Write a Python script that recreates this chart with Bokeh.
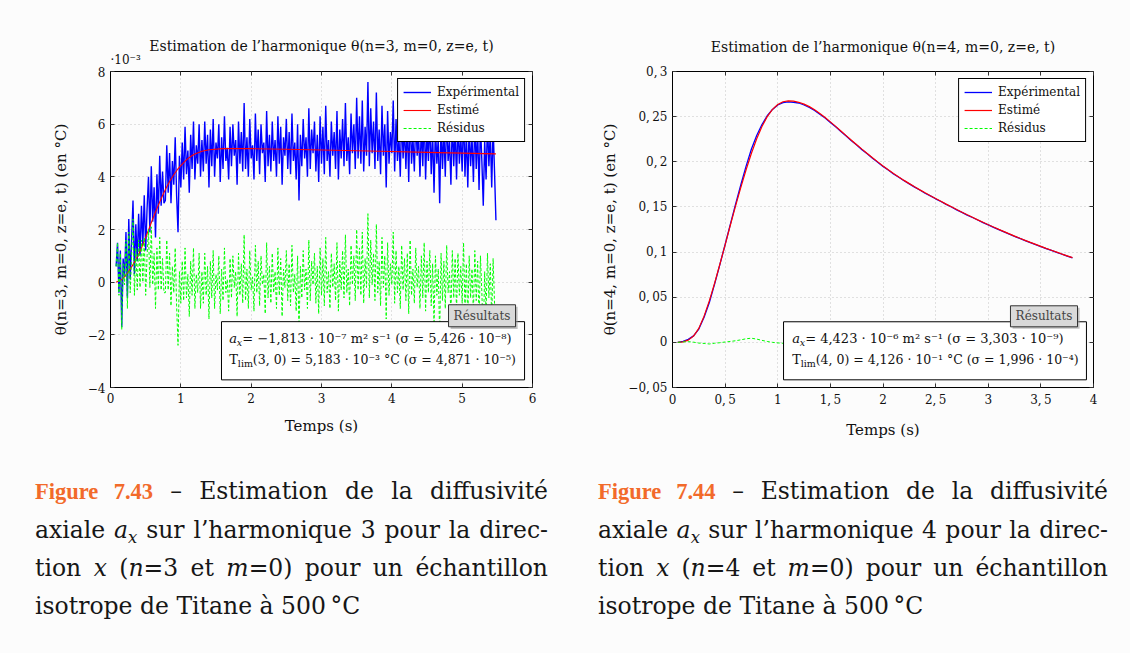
import numpy as np
from bokeh.plotting import figure
from bokeh.models import (Range1d, FixedTicker, BoxAnnotation, Label, Legend,
                          LegendItem, Div, LinearAxis, Title)
from bokeh.layouts import row, column
from bokeh.embed import file_html
from bokeh.resources import INLINE

BG = "#fcfcfc"
FONT = "DejaVu Serif"

# ---------------- data : harmonique n=3 (values in 1e-3 °C) ----------------
experimental_3 = [
    0.6, 1.5, -0.4, 1.2, -1.7, 0.9, 0.2, 1.9, -0.6, 2.4, 0.1, 1.6, 3.1, 0.3, 2.2, 0.8, 2.6,
    1.0, 2.9, 1.4, 3.3, 1.2, 2.8, 4.0, 1.9, 4.4, 2.3, 3.6, 1.7, 4.1, 2.6, 4.8, 2.9, 4.2, 3.0, 3.1, 5.2,
    3.4, 4.9, 3.0, 4.6, 3.7, 5.5, 3.3, 1.9, 4.8, 3.6, 5.3, 3.9, 5.9, 4.1, 5.0, 3.4, 5.6, 4.3, 6.1, 3.9,
    5.2, 4.5, 6.0, 4.0, 5.4,
    4.2, 6.1, 4.5, 5.6, 3.6, 5.8, 4.4, 6.2, 4.0, 5.3,
    4.7, 6.0, 3.8, 5.5, 4.3, 6.3, 4.6, 5.1, 3.9, 5.9,
    4.4, 6.0, 4.8, 5.4, 3.7, 6.1, 4.5, 5.7, 4.2, 6.8,
    4.3, 5.5, 4.0, 6.2, 4.7, 5.2, 3.9, 6.4, 4.6, 5.8,
    4.1, 6.0, 4.9, 5.3, 3.8, 6.5, 4.4, 5.6, 4.2, 6.1,
    4.6, 5.4, 4.0, 6.3, 4.5, 5.9, 3.7, 5.5, 4.8, 6.2,
    4.3, 5.7, 4.1, 6.4, 4.6, 5.3, 3.9, 6.0, 3.1, 5.6,
    4.4, 6.2, 4.7, 5.5, 4.0, 6.6, 4.3, 5.8, 4.9, 6.1,
    4.2, 5.6, 3.8, 6.3, 4.5, 5.9, 4.1, 6.7, 4.6, 5.4,
    4.0, 6.1, 4.8, 5.7, 4.3, 6.5, 3.9, 5.8, 4.7, 6.2,
    4.4, 6.8, 4.6, 5.5, 4.1, 6.4, 4.9, 6.0, 4.3, 7.0,
    4.7, 6.3, 4.5, 6.9, 4.2, 5.9, 4.8, 7.6, 4.4, 6.6,
    4.9, 6.1, 4.3, 7.2, 4.6, 5.8, 4.1, 6.7, 4.8, 6.0,
    3.6, 6.5, 4.5, 5.7, 4.9, 6.9, 4.2, 6.2, 4.6, 5.6,
    4.0, 6.4, 4.7, 5.9, 4.3, 6.1, 3.8, 6.6, 4.5, 5.5,
    4.2, 6.3, 4.8, 5.6, 4.0, 6.0, 4.4, 6.5, 3.9, 5.8,
    4.6, 6.2, 4.1, 5.7, 3.4, 6.0, 4.5, 5.5, 3.0, 6.1,
    4.3, 5.8, 4.0, 6.4, 4.6, 5.4, 3.7, 6.2, 4.4, 5.9,
    3.9, 6.1, 4.5, 5.6, 4.2, 6.5, 4.0, 5.7, 3.6, 6.0,
    4.4, 5.5, 3.8, 6.2, 4.3, 5.8, 3.5, 6.0, 4.6, 2.9,
    5.4, 3.9, 6.1, 4.4, 5.7, 3.6, 5.9, 4.2,
    2.35,
]
residus_3 = [
    0.6, 1.5, -0.5, 1.1, -1.8, 0.7, -0.1, 1.6, -1.0, 1.9, -0.4, 1.0, 2.4, -0.5, 1.3, -0.3, 1.6,
    -0.2, 1.6, 0.0, 1.7, -0.5, 1.0, 2.0, -0.2, 2.1, -0.1, 1.1, -1.0, 1.3, -0.3, 1.7, -0.3, 0.9, -0.4, -0.4, 1.6,
    -0.3, 1.1, -0.9, 0.6, -0.4, 1.3, -0.9, -2.4, 0.4, -0.8, 0.8, -0.7, 1.3, -0.6, 0.3, -1.3, 0.8, -0.5, 1.3, -1.0,
    0.3, -0.4, 1.1, -1.0, 0.4,
    -0.8, 1.1, -0.5, 0.6, -1.4, 0.8, -0.6, 1.2, -1.0, 0.3,
    -0.3, 1.0, -1.2, 0.5, -0.7, 1.3, -0.4, 0.1, -1.1, 0.9,
    -0.6, 1.0, -0.2, 0.4, -1.3, 1.1, -0.5, 0.7, -0.8, 1.8,
    -0.7, 0.5, -1.0, 1.2, -0.3, 0.2, -1.1, 1.4, -0.4, 0.8,
    -0.9, 1.0, -0.1, 0.3, -1.2, 1.5, -0.6, 0.6, -0.8, 1.1,
    -0.4, 0.4, -1.0, 1.3, -0.5, 0.9, -1.3, 0.5, -0.2, 1.2,
    -0.7, 0.7, -0.9, 1.4, -0.4, 0.3, -1.1, 1.0, -1.9, 0.6,
    -0.6, 1.2, -0.3, 0.5, -1.0, 1.6, -0.7, 0.8, -0.1, 1.1,
    -0.8, 0.6, -1.2, 1.3, -0.5, 0.9, -0.9, 1.7, -0.4, 0.4,
    -1.0, 1.1, -0.2, 0.7, -0.7, 1.5, -1.1, 0.8, -0.3, 1.2,
    -0.6, 1.8, -0.4, 0.5, -0.9, 1.4, -0.1, 1.0, -0.7, 2.0,
    -0.3, 1.3, -0.5, 1.9, -0.8, 0.9, -0.2, 2.6, -0.6, 1.6,
    -0.1, 1.1, -0.7, 2.2, -0.4, 0.8, -0.9, 1.7, -0.2, 1.0,
    -1.4, 1.5, -0.5, 0.7, -0.1, 1.9, -0.8, 1.2, -0.4, 0.6,
    -1.0, 1.4, -0.3, 0.9, -0.7, 1.1, -1.2, 1.6, -0.5, 0.5,
    -0.8, 1.3, -0.2, 0.6, -1.0, 1.0, -0.6, 1.5, -1.1, 0.8,
    -0.4, 1.2, -0.9, 0.7, -1.6, 1.0, -0.5, 0.5, -2.0, 1.1,
    -0.7, 0.8, -1.0, 1.4, -0.4, 0.4, -1.3, 1.2, -0.6, 0.9,
    -1.1, 1.1, -0.5, 0.6, -0.8, 1.5, -1.0, 0.7, -1.4, 1.0,
    -0.6, 0.5, -1.2, 1.2, -0.7, 0.8, -1.5, 1.0, -0.4, -2.1,
    0.4, -1.1, 1.1, -0.6, 0.7, -1.4, 0.9, -0.8,
    -2.5,
]
temps_3 = np.round(0.08 + 0.02 * np.arange(len(experimental_3)), 2)

temps_est_3 = [0.08, 0.15, 0.2, 0.25, 0.3, 0.35, 0.4, 0.45, 0.5, 0.55, 0.6, 0.65, 0.7, 0.75,
               0.8, 0.85, 0.9, 0.95, 1.0, 1.05, 1.1, 1.15, 1.2, 1.3, 1.4, 1.6, 2.0, 2.5, 3.0,
               3.5, 4.0, 4.5, 5.0, 5.48]
estime_3 = [0.0, 0.08, 0.2, 0.38, 0.58, 0.8, 1.05, 1.36, 1.7, 2.05, 2.4, 2.73, 3.05, 3.35,
            3.62, 3.87, 4.08, 4.27, 4.43, 4.57, 4.69, 4.79, 4.87, 4.97, 5.03, 5.07, 5.07,
            5.05, 5.02, 4.99, 4.96, 4.93, 4.9, 4.87]

# ---------------- data : harmonique n=4 (values in °C) ----------------
estime_4 = [
    0.0000, 0.0006, 0.0025, 0.0070, 0.0155, 0.0290, 0.0460, 0.0655, 0.0865, 0.1080,
    0.1300, 0.1515, 0.1720, 0.1915, 0.2095, 0.2255, 0.2390, 0.2500, 0.2580, 0.2635,
    0.2665,
    0.2675, 0.2671, 0.2659, 0.2639, 0.2611, 0.2576, 0.2535, 0.2490, 0.2442, 0.2392,
    0.2341, 0.2290, 0.2239, 0.2189, 0.2140, 0.2092, 0.2045, 0.1999, 0.1954, 0.1911,
    0.1870, 0.1831, 0.1794, 0.1758, 0.1723, 0.1689, 0.1656, 0.1624, 0.1593,
    0.1562, 0.1531, 0.1501, 0.1471, 0.1442, 0.1413, 0.1385, 0.1357, 0.1330, 0.1303,
    0.1277, 0.1251, 0.1226, 0.1201, 0.1177, 0.1153, 0.1130, 0.1107, 0.1085, 0.1063,
    0.1041, 0.1020, 0.0999, 0.0978, 0.0958, 0.0938,
]
experimental_4 = [
    0.0000, 0.0011, 0.0033, 0.0072, 0.0147, 0.0278, 0.0442, 0.0645, 0.0861, 0.1084,
    0.1310, 0.1533, 0.1748, 0.1955, 0.2141, 0.2291, 0.2412, 0.2510, 0.2580, 0.2629,
    0.2655,
    0.2663, 0.2659, 0.2651, 0.2629, 0.2601, 0.2569, 0.2526, 0.2484, 0.2436, 0.2387,
    0.2335, 0.2286, 0.2233, 0.2185, 0.2134, 0.2089, 0.2040, 0.1996, 0.1949, 0.1908,
    0.1865, 0.1828, 0.1790, 0.1755, 0.1719, 0.1687, 0.1652, 0.1622, 0.1590,
    0.1560, 0.1528, 0.1499, 0.1468, 0.1440, 0.1410, 0.1383, 0.1355, 0.1327, 0.1301,
    0.1274, 0.1249, 0.1223, 0.1199, 0.1174, 0.1151, 0.1127, 0.1105, 0.1083, 0.1061,
    0.1039, 0.1018, 0.0997, 0.0976, 0.0956, 0.0936,
]
residus_4 = [
    0.0000, 0.0005, 0.0008, 0.0002, -0.0008, -0.0012, -0.0018, -0.0010, -0.0004, 0.0004,
    0.0010, 0.0018, 0.0028, 0.0040, 0.0046, 0.0036, 0.0022, 0.0010, 0.0000, -0.0006,
    -0.0010, -0.0012, -0.0008, -0.0010, -0.0013, -0.0010, -0.0007, -0.0009, -0.0006, -0.0006,
    -0.0008, -0.0005, -0.0007, -0.0003, -0.0006, -0.0004, -0.0008, -0.0003, -0.0006, -0.0003,
    -0.0005, -0.0003, -0.0006, -0.0002, -0.0006, -0.0002, -0.0004, -0.0003, -0.0004, -0.0002,
    -0.0004, -0.0002, -0.0003, -0.0002, -0.0003, -0.0002, -0.0003, -0.0001, -0.0003, -0.0002,
    -0.0003, -0.0001, -0.0003, -0.0002, -0.0002, -0.0001, -0.0003, -0.0001, -0.0002, -0.0001,
    -0.0003, -0.0001, -0.0003, -0.0001, -0.0002, -0.0004,
]
temps_4 = np.round(0.05 + 0.05 * np.arange(len(estime_4)), 2)

x_ticks_3 = [0, 1, 2, 3, 4, 5, 6]
x_labels_3 = ["0", "1", "2", "3", "4", "5", "6"]
y_ticks_3 = [-4, -2, 0, 2, 4, 6, 8]
y_labels_3 = ["−4", "−2", "0", "2", "4", "6", "8"]
x_ticks_4 = [0, 0.5, 1, 1.5, 2, 2.5, 3, 3.5, 4]
x_labels_4 = ["0", "0,\u20095", "1", "1,\u20095", "2", "2,\u20095", "3", "3,\u20095", "4"]
y_ticks_4 = [-0.05, 0, 0.05, 0.1, 0.15, 0.2, 0.25, 0.3]
y_labels_4 = ["−0,\u200905", "0", "0,\u200905", "0,\u20091", "0,\u200915", "0,\u20092", "0,\u200925", "0,\u20093"]

series_names = ["Expérimental", "Estimé", "Résidus"]


def make_plot(n, xr, yr, xt, xl, yt, yl, t_exp, exp, t_est, est, t_res, res, widths,
              box, tag_box, tag_center, left_border, right_border, frame_w,
              title_standoff, ylabel_standoff):
    p = figure(frame_width=frame_w, frame_height=316, x_range=Range1d(*xr), y_range=Range1d(*yr),
               output_backend="svg", toolbar_location=None,
               min_border_left=left_border, min_border_right=right_border,
               min_border_top=71, min_border_bottom=63,
               background_fill_color=BG, border_fill_color=BG)
    p.outline_line_color = "black"
    p.outline_line_width = 1
    p.outline_line_alpha = 1
    p.title.text = f"Estimation de l’harmonique θ(n={n}, m=0, z=e, t)"
    p.title.align = "center"
    p.title.text_font = FONT
    p.title.text_font_size = "14px"
    p.title.text_font_style = "normal"
    p.title.text_color = "#111111"
    try:
        p.title.standoff = title_standoff
    except Exception:
        p.title.standoff = 0

    for ax in p.xaxis:
        ax.ticker = FixedTicker(ticks=xt)
        ax.major_label_overrides = {k: v for k, v in zip(xt, xl)}
        ax.axis_label = "Temps (s)"
        ax.axis_label_standoff = 11
    for ax in p.yaxis:
        ax.ticker = FixedTicker(ticks=yt)
        ax.major_label_overrides = {k: v for k, v in zip(yt, yl)}
        ax.axis_label = f"θ(n={n}, m=0, z=e, t) (en °C)"
        ax.axis_label_standoff = ylabel_standoff
    for ax in list(p.xaxis) + list(p.yaxis):
        ax.major_tick_in = 4
        ax.major_tick_out = 0
        ax.minor_tick_line_color = None
        ax.axis_line_color = "black"
        ax.major_tick_line_color = "#333333"
        ax.major_label_text_font = FONT
        ax.major_label_text_font_size = "12px"
        ax.major_label_text_color = "#111111"
        ax.axis_label_text_font = FONT
        ax.axis_label_text_font_size = "15px"
        ax.axis_label_text_font_style = "normal"
        ax.axis_label_text_color = "#111111"
        ax.major_label_standoff = 5

    # mirrored ticks on top and right (no labels)
    for loc, ticks in (("above", xt), ("right", yt)):
        mirror = LinearAxis(ticker=FixedTicker(ticks=ticks), major_label_text_font_size="1px",
                            major_label_text_color=None, axis_line_color=None,
                            major_tick_in=4, major_tick_out=0, minor_tick_line_color=None,
                            major_label_standoff=0, major_tick_line_color="#333333")
        p.add_layout(mirror, loc)

    p.grid.grid_line_color = "#c4c4c4"
    p.grid.grid_line_dash = "1 3"
    p.grid.grid_line_width = 1

    r1 = p.line(t_exp, exp, color="#0000ff", line_width=widths[0])
    r2 = p.line(t_est, est, color="#ff0000", line_width=widths[1])
    r3 = p.line(t_res, res, color="#00ff00", line_width=widths[2], line_dash="3 2")

    legend = Legend(items=[LegendItem(label=series_names[0], renderers=[r1]),
                           LegendItem(label=series_names[1], renderers=[r2]),
                           LegendItem(label=series_names[2], renderers=[r3])],
                    location="top_right", margin=7, padding=5, spacing=2,
                    label_height=16, glyph_height=16, glyph_width=28, label_standoff=6,
                    label_text_font=FONT, label_text_font_size="12px",
                    label_text_color="#111111",
                    border_line_color="black", border_line_width=1, border_line_alpha=1,
                    background_fill_color="white", background_fill_alpha=1)
    p.add_layout(legend)

    # results box
    bl, br, bt, bb = box
    p.add_layout(BoxAnnotation(left=bl, right=br, top=bt, bottom=bb, fill_color="white",
                               fill_alpha=1, line_color="black", line_width=1, line_alpha=1))
    tl, tr, tt, tb, sx, sy = tag_box
    p.add_layout(BoxAnnotation(left=tl + sx, right=tr + sx, top=tt - sy, bottom=tb - sy,
                               fill_color="#9a9a9a", fill_alpha=0.6, line_alpha=0))
    p.add_layout(BoxAnnotation(left=tl, right=tr, top=tt, bottom=tb, fill_color="#d9d9d9",
                               fill_alpha=1, line_color="#333333", line_width=1, line_alpha=1))
    p.add_layout(Label(x=tag_center[0], y=tag_center[1], text="Résultats", text_font=FONT,
                       text_font_size="12px", text_color="#444444", text_align="center",
                       text_baseline="middle"))
    return p


def txt(p, x, y, text, dx=0, dy=0, size="13px", style="normal"):
    p.add_layout(Label(x=x, y=y, x_offset=dx, y_offset=dy, text=text, text_font=FONT,
                       text_font_size=size, text_font_style=style,
                       text_color="#111111", text_baseline="middle"))


def results(p, x, y1, y2, line1, line2):
    # line 1 : a_x ...
    txt(p, x, y1, "a", style="italic")
    txt(p, x, y1, "x", dx=7.5, dy=-4, size="9.5px", style="italic")
    txt(p, x, y1, line1, dx=13)
    # line 2 : T_lim ...
    txt(p, x, y2, "T")
    txt(p, x, y2, "lim", dx=8.5, dy=-4, size="9.5px")
    txt(p, x, y2, line2, dx=23.5, size="12.5px")


# ---------- left figure ----------
p1 = make_plot(3, (0, 6), (-4, 8), x_ticks_3, x_labels_3, y_ticks_3, y_labels_3,
               temps_3, experimental_3, temps_est_3, estime_3, temps_3, residus_3, (1.4, 1.1, 1.0),
               (1.578, 5.887, -1.50, -3.71),
               (4.806, 5.759, -0.858, -1.694, 0.03, 0.08), (5.282, -1.276), 110, 38, 422, -14, 15)
p1.add_layout(Title(text="·10⁻³", align="left", text_font=FONT, text_font_size="12px",
                    text_font_style="normal", text_color="#111111", standoff=9), "above")
results(p1, 1.69, -2.15, -2.95,
        " = −1,813 · 10⁻⁷ m² s⁻¹  (σ = 5,426 · 10⁻⁸)",
        "(3, 0) = 5,183 · 10⁻³ °C (σ = 4,871 · 10⁻⁵)")

# ---------- right figure ----------
p2 = make_plot(4, (0, 4), (-0.05, 0.3), x_ticks_4, x_labels_4, y_ticks_4, y_labels_4,
               temps_4, experimental_4, temps_4, estime_4, temps_4, residus_4, (1.3, 1.2, 1.0),
               (1.055, 3.933, 0.0228, -0.0415),
               (3.211, 3.848, 0.0405, 0.0172, 0.02, 0.0022), (3.530, 0.0289), 102, 37, 421, 33, 6)
results(p2, 1.137, 0.004, -0.0193,
        " = 4,423 · 10⁻⁶ m² s⁻¹  (σ = 3,303 · 10⁻⁹)",
        "(4, 0) = 4,126 · 10⁻¹ °C (σ = 1,996 · 10⁻⁴)")


# ---------- captions ----------
def caption(num, n, left, width):
    J = "text-align:justify;text-align-last:justify;white-space:nowrap;"
    L = "text-align:left;white-space:nowrap;"
    sub = ('<sub style="font-size:70%;vertical-align:baseline;position:relative;'
           'top:0.3em;line-height:0">x</sub>')
    lines = [
        (J, f'<b style="color:#f26a2a;font-family:\'Liberation Serif\';font-size:22.5px">'
            f'Figure 7.{num}</b> – Estimation de la diffusivité'),
        (J, f'axiale <i>a{sub}</i> sur l’harmonique {n} pour la direc-'),
        (J, f'tion <i>x</i> (<i>n</i>={n} et <i>m</i>=0) pour un échantillon'),
        (L, 'isotrope de Titane à 500\u2009°C'),
    ]
    inner = "".join(f'<div style="{s}">{t}</div>' for s, t in lines)
    return (f'<div style="font-family:\'DejaVu Serif\';font-size:23.5px;line-height:38px;'
            f'color:#161616;width:{width}px;margin-left:{left}px;padding-top:17px;">{inner}</div>')


d1 = Div(text=caption(43, 3, 30, 513), width=570, height=203, styles={"background-color": BG})
d2 = Div(text=caption(44, 4, 13, 510), width=560, height=203, styles={"background-color": BG})

layout = column(row(p1, p2, spacing=0), row(d1, d2, spacing=0), spacing=0,
                styles={"background-color": BG})

open("out.html", "w").write(file_html(layout, INLINE))
